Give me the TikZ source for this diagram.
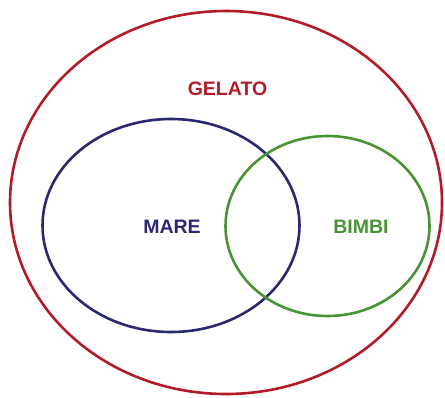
\documentclass[tikz,border=0pt]{standalone}
\usepackage{fontspec}
\setmainfont{Liberation Sans}
\definecolor{gred}{RGB}{178,28,40}
\definecolor{mblue}{RGB}{42,40,112}
\definecolor{bgreen}{RGB}{72,148,52}
\tikzset{
  setline/.style={line width=2.6pt},
  setlabel/.style={font=\fontsize{19.5}{20}\selectfont\bfseries, inner sep=0pt}
}
\begin{document}
\begin{tikzpicture}[x=1pt,y=-1pt]
\useasboundingbox (0,0) rectangle (445,397);
\draw[setline, gred] (226,202.5) ellipse [x radius=216, y radius=191.5];
\draw[setline, mblue] (171,225.5) ellipse [x radius=128.5, y radius=106.5];
\draw[setline, bgreen] (327.5,226) ellipse [x radius=102, y radius=90];
\node[setlabel, text=gred] (gelato) at (227.5,89) {GELATO};
\node[setlabel, text=mblue] (mare) at (172,227) {MARE};
\node[setlabel, text=bgreen] (bimbi) at (361,227) {BIMBI};
\end{tikzpicture}
\end{document}
